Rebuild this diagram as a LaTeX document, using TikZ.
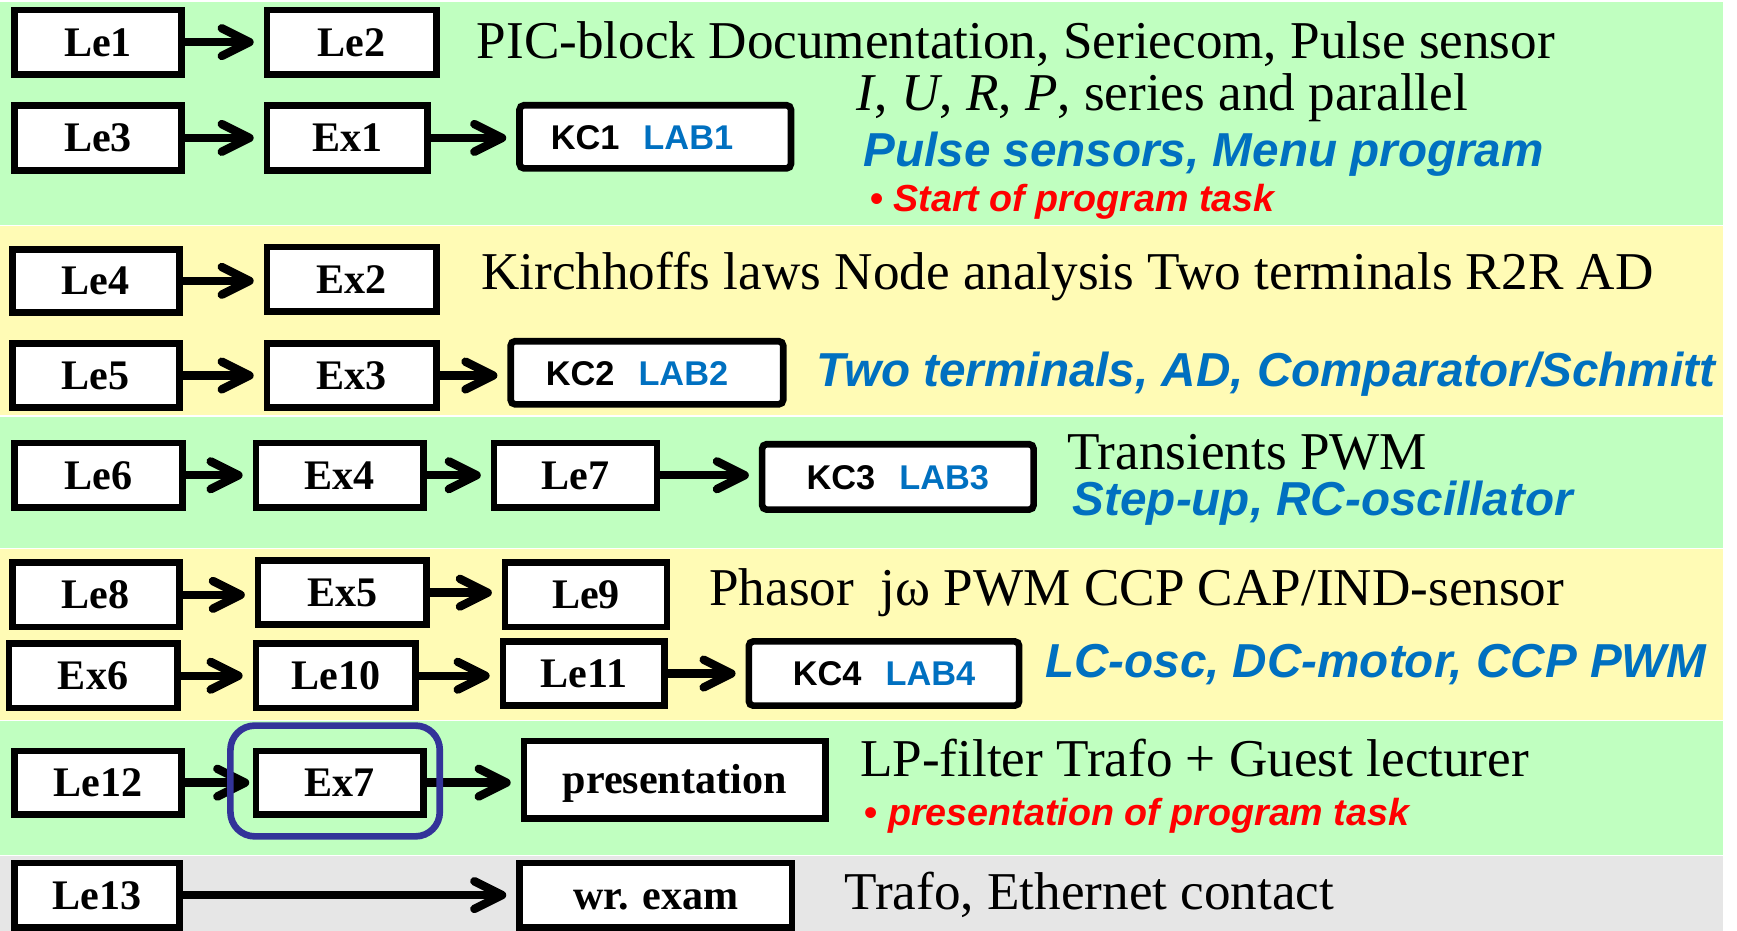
\documentclass[tikz,border=0pt]{standalone}
\usepackage{fontspec}
\setmainfont{Liberation Serif}
\newfontfamily\arial{Liberation Sans}
\usetikzlibrary{arrows.meta}
\definecolor{bandgreen}{RGB}{192,255,192}
\definecolor{bandyellow}{RGB}{255,251,181}
\definecolor{bandgray}{RGB}{230,230,230}
\definecolor{txtblue}{RGB}{0,112,192}
\definecolor{txtred}{RGB}{255,0,0}
\definecolor{navy}{RGB}{51,51,153}
\tikzset{
  box/.style={draw=black, line width=3pt, fill=white, inner sep=0pt,
    text height=12.6pt, text depth=0pt,
    font=\fontsize{19pt}{22pt}\selectfont\bfseries},
  kcbox/.style={box, rounded corners=2pt, text height=11.1pt, font=\fontsize{15.5pt}{19pt}\selectfont\arial\bfseries},
  conn/.style={line width=3.8pt, -{Straight Barb[round, length=12.5pt, width=12.5pt]}, shorten >=4.5pt},
  serif/.style={anchor=west, inner sep=0pt, font=\fontsize{24pt}{28pt}\selectfont},
  bluet/.style={anchor=west, inner sep=0pt, text=txtblue, font=\fontsize{21.5pt}{25pt}\selectfont\arial\bfseries\itshape},
  redt/.style={anchor=west, inner sep=0pt, text=txtred, font=\fontsize{17pt}{20pt}\selectfont\arial\bfseries\itshape},
}
\newcommand{\bul}{{\upshape\textbullet}\ }
\begin{document}
\begin{tikzpicture}[x=0.5pt, y=-0.5pt]
\useasboundingbox (0,0) rectangle (1568,840);
% bands
\fill[bandgreen]  (0,2)   rectangle (1555,203);
\fill[bandyellow] (0,204) rectangle (1555,375);
\fill[bandgreen]  (0,376) rectangle (1555,495);
\fill[bandyellow] (0,496) rectangle (1555,650);
\fill[bandgreen]  (0,651) rectangle (1555,772);
\fill[bandgray]   (0,773) rectangle (1555,840);

% boxes
\node[box, minimum width=75.5pt, minimum height=29pt] (le1) at (88.5,38) {Le1};
\node[box, minimum width=76.5pt, minimum height=29pt] (le2) at (317.5,38) {Le2};
\node[box, minimum width=75.5pt, minimum height=29.5pt] (le3) at (88.5,124.5) {Le3};
\node[box, minimum width=72.5pt, minimum height=29.5pt] (ex1) at (313.5,124.5) {Ex1};
\node[kcbox, minimum width=122.5pt, minimum height=28.5pt] (kc1) at (591.5,123.5) {KC1\hspace{0.7em}\textcolor{txtblue}{LAB1}\hspace*{12pt}};

\node[box, minimum width=75.5pt, minimum height=28.5pt] (le4) at (86.5,253.5) {Le4};
\node[box, minimum width=76.5pt, minimum height=29pt] (ex2) at (317.5,252) {Ex2};
\node[box, minimum width=75.5pt, minimum height=29pt] (le5) at (86.5,339) {Le5};
\node[box, minimum width=76.5pt, minimum height=29pt] (ex3) at (317.5,339) {Ex3};
\node[kcbox, minimum width=123pt, minimum height=28.5pt] (kc2) at (584,336.5) {KC2\hspace{0.7em}\textcolor{txtblue}{LAB2}\hspace*{9pt}};

\node[box, minimum width=76pt, minimum height=29pt] (le6) at (89,429) {Le6};
\node[box, minimum width=75.5pt, minimum height=29pt] (ex4) at (306.5,429) {Ex4};
\node[box, minimum width=73.5pt, minimum height=29pt] (le7) at (519.5,429) {Le7};
\node[kcbox, minimum width=122.5pt, minimum height=29.5pt] (kc3) at (810.5,430.5) {KC3\hspace{0.7em}\textcolor{txtblue}{LAB3}};

\node[box, minimum width=75.5pt, minimum height=29pt] (le8) at (86.5,537) {Le8};
\node[box, minimum width=76pt, minimum height=29pt] (ex5) at (309,535) {Ex5};
\node[box, minimum width=73pt, minimum height=29pt] (le9) at (529,537) {Le9};
\node[box, minimum width=76pt, minimum height=29pt] (ex6) at (84,610) {Ex6};
\node[box, minimum width=72pt, minimum height=29pt] (le10) at (303,610) {Le10};
\node[box, minimum width=73pt, minimum height=29pt] (le11) at (527,608) {Le11};
\node[kcbox, minimum width=122pt, minimum height=29pt] (kc4) at (798,608) {KC4\hspace{0.7em}\textcolor{txtblue}{LAB4}};

\node[box, minimum width=75.5pt, minimum height=28.5pt] (le12) at (88.5,706.5) {Le12};
\node[box, minimum width=75.5pt, minimum height=28.5pt] (ex7) at (306.5,706.5) {Ex7};
\node[box, minimum width=136pt, minimum height=35pt] (pres) at (609,704) {presentation};
\node[box, minimum width=74.5pt, minimum height=29pt] (le13) at (87.5,808) {Le13};
\node[box, minimum width=123pt, minimum height=29pt] (exam) at (592,808) {wr. exam};

% connectors
\draw[conn] (le1.east) -- (le1.east -| le2.west);
\draw[conn] (le3.east) -- (le3.east -| ex1.west);
\draw[conn] (ex1.east) -- (ex1.east -| kc1.west);
\draw[conn] (le4.east) -- (le4.east -| ex2.west);
\draw[conn] (le5.east) -- (le5.east -| ex3.west);
\draw[conn] (ex3.east) -- (ex3.east -| kc2.west);
\draw[conn] (le6.east) -- (le6.east -| ex4.west);
\draw[conn] (ex4.east) -- (ex4.east -| le7.west);
\draw[conn] (le7.east) -- (le7.east -| kc3.west);
\draw[conn] (le8.east) -- (le8.east -| ex5.west);
\draw[conn] (ex5.east) -- (ex5.east -| le9.west);
\draw[conn] (ex6.east) -- (ex6.east -| le10.west);
\draw[conn] (le10.east) -- (le10.east -| le11.west);
\draw[conn] (le11.east) -- (le11.east -| kc4.west);
\draw[conn, shorten >=1.5pt] (le12.east) -- (le12.east -| ex7.west);
\draw[conn] (ex7.east) -- (ex7.east -| pres.west);
\draw[conn] (le13.east) -- (le13.east -| exam.west);

% highlight
\draw[navy, line width=3pt, rounded corners=11pt] (208,655) rectangle (397,755);

% texts
\node[serif] (t1) at (430,40) {PIC-block Documentation, Seriecom, Pulse sensor};
\node[serif] (t2) at (773,88) {\textit{I}, \textit{U}, \textit{R}, \textit{P}, series and parallel};
\node[bluet] (t3) at (779,139) {Pulse sensors, Menu program};
\node[redt] (t4) at (785,182) {\bul Start of program task};
\node[serif] (t5) at (434,250) {Kirchhoffs laws Node analysis Two terminals R2R AD};
\node[bluet] (t6) at (737,338) {Two terminals, AD, Comparator/Schmitt};
\node[serif] (t7) at (963,408) {Transients PWM};
\node[bluet] (t8) at (968,454) {Step-up, RC-oscillator};
\node[serif] (t9) at (640,535) {Phasor\ \ jω PWM CCP CAP/IND-sensor};
\node[bluet] (t10) at (943,600) {LC-osc, DC-motor, CCP PWM};
\node[serif] (t11) at (776,684) {LP-filter Trafo + Guest lecturer};
\node[redt] (t12) at (780,736) {\bul presentation of program task};
\node[serif] (t13) at (762,808) {Trafo, Ethernet contact};
\end{tikzpicture}
\end{document}
